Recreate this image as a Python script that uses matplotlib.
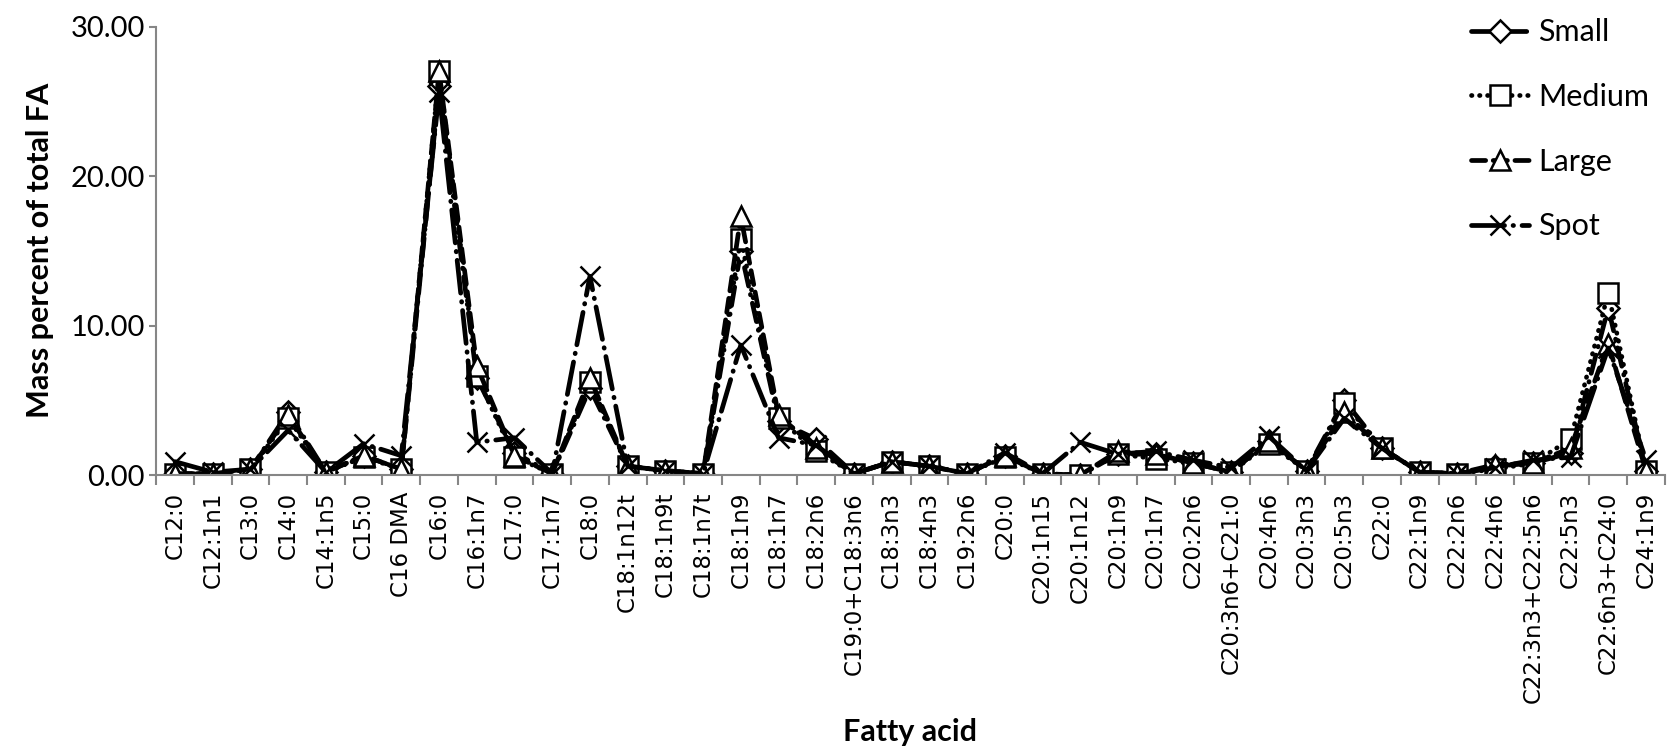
import numpy as np
import matplotlib.pyplot as plt

# Fatty acid profile: mass percent of total FA by size class
fatty_acids = [
    "C12:0", "C12:1n1", "C13:0", "C14:0", "C14:1n5", "C15:0", "C16 DMA", "C16:0",
    "C16:1n7", "C17:0", "C17:1n7", "C18:0", "C18:1n12t", "C18:1n9t", "C18:1n7t",
    "C18:1n9", "C18:1n7", "C18:2n6", "C19:0+C18:3n6", "C18:3n3", "C18:4n3",
    "C19:2n6", "C20:0", "C20:1n15", "C20:1n12", "C20:1n9", "C20:1n7", "C20:2n6",
    "C20:3n6+C21:0", "C20:4n6", "C20:3n3", "C20:5n3", "C22:0", "C22:1n9",
    "C22:2n6", "C22:4n6", "C22:3n3+C22:5n6", "C22:5n3", "C22:6n3+C24:0", "C24:1n9",
]

small = [0.1, 0.1, 0.4, 4.2, 0.2, 1.3, 0.4, 26.0, 6.5, 1.5, 0.1, 5.8, 0.6, 0.3, 0.1,
         15.0, 3.6, 2.4, 0.1, 0.9, 0.6, 0.1, 1.3, 0.1, 0.0, 1.4, 1.4, 0.8, 0.2, 2.3,
         0.3, 5.0, 1.8, 0.2, 0.1, 0.6, 0.8, 1.5, 11.2, 0.3]
medium = [0.1, 0.1, 0.4, 3.8, 0.2, 1.2, 0.4, 27.0, 6.6, 1.2, 0.1, 6.2, 0.6, 0.3, 0.1,
          15.8, 3.8, 1.6, 0.1, 0.9, 0.6, 0.1, 1.2, 0.1, 0.0, 1.4, 1.1, 0.8, 0.2, 2.1,
          0.3, 4.8, 1.8, 0.2, 0.1, 0.4, 0.8, 2.4, 12.2, 0.3]
large = [0.1, 0.1, 0.4, 4.0, 0.2, 1.3, 0.4, 27.0, 7.3, 1.3, 0.1, 6.5, 0.6, 0.3, 0.1,
         17.3, 4.0, 1.8, 0.1, 0.9, 0.6, 0.1, 1.3, 0.1, 0.0, 1.6, 1.4, 0.8, 0.2, 2.3,
         0.3, 4.2, 1.8, 0.2, 0.1, 0.7, 0.8, 1.8, 8.8, 0.3]
spot = [0.9, 0.2, 0.4, 3.0, 0.2, 2.1, 1.3, 25.6, 2.2, 2.5, 0.1, 13.3, 0.6, 0.3, 0.1,
        8.7, 2.5, 2.0, 0.1, 0.9, 0.6, 0.1, 1.5, 0.1, 2.2, 1.4, 1.6, 1.0, 0.5, 2.6,
        0.3, 3.8, 1.8, 0.2, 0.1, 0.5, 1.0, 1.2, 8.5, 1.0]

series = [
    ("Small", small, "D", (4, 1.8, 0.1, 1.8), 11),
    ("Medium", medium, "s", (0.1, 1.6), 14),
    ("Large", large, "^", (3, 1.6), 14),
    ("Spot", spot, "x", (7, 1.8, 0.1, 1.8), 14),
]

grey = "#868686"
x = np.arange(len(fatty_acids))

fig = plt.figure(figsize=(16.67, 7.53), dpi=100)
ax = fig.add_axes([0.0937, 0.369, 0.905, 0.5957])

for name, vals, marker, dashes, ms in series:
    ax.plot(x, vals, color="black", lw=3.4, dashes=dashes, dash_capstyle="round",
            marker=marker, markersize=ms, markerfacecolor="white",
            markeredgecolor="black", markeredgewidth=1.8, label=name)

ax.set_xlim(-0.5, len(fatty_acids) - 0.5)
ax.set_ylim(0, 30)
ax.set_yticks([0, 10, 20, 30])
ax.set_yticklabels(["0.00", "10.00", "20.00", "30.00"], family="Lato", fontsize=21)

ax.set_xticks(x)
ax.set_xticklabels(fatty_acids, rotation=90, family="DejaVu Sans", fontsize=16.5)
ax.set_xticks(np.arange(len(fatty_acids) + 1) - 0.5, minor=True)
ax.tick_params(axis="x", which="major", length=0, pad=12)
ax.tick_params(axis="x", which="minor", length=7, width=1.5, color=grey, direction="out")
ax.tick_params(axis="y", length=5, width=1.5, color=grey, direction="out", pad=3)

for side in ("top", "right"):
    ax.spines[side].set_visible(False)
for side in ("left", "bottom"):
    ax.spines[side].set_color(grey)
    ax.spines[side].set_linewidth(1.5)

ax.set_ylabel("Mass percent of total FA", family="Lato", fontweight="bold",
              fontsize=22, labelpad=12)
fig.text(0.546, 0.028, "Fatty acid", family="Lato", fontweight="bold", fontsize=22,
         ha="center", va="center")

leg = fig.legend(loc="upper right", bbox_to_anchor=(1.006, 1.012), frameon=False,
                 prop={"family": "Lato", "size": 22}, labelspacing=1.2,
                 handlelength=1.9, handletextpad=0.3)

fig.savefig("out.png", dpi=100)
